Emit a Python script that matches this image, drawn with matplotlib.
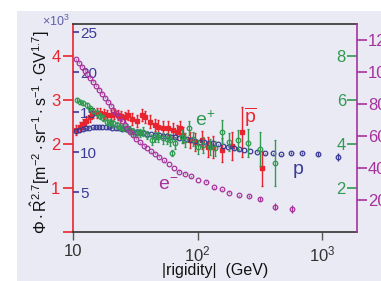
import matplotlib
matplotlib.use("Agg")
import matplotlib.pyplot as plt
from matplotlib.patches import Rectangle
from matplotlib.ticker import NullLocator

plt.rcParams['font.family'] = ['Liberation Sans', 'DejaVu Sans']
plt.rcParams['mathtext.fontset'] = 'custom'
plt.rcParams['mathtext.rm'] = 'Liberation Sans'
plt.rcParams['mathtext.it'] = 'Liberation Sans:italic'
plt.rcParams['mathtext.default'] = 'regular'

# protons (x10^3, blue inner scale)
p_rig = [10.57, 11.24, 11.94, 12.69, 13.49, 14.34, 15.25, 16.20, 17.22, 18.31,
         19.46, 20.69, 21.99, 23.37, 24.85, 26.41, 28.07, 29.84, 31.71, 33.71,
         36.16, 38.94, 41.94, 45.14, 48.62, 52.35, 56.36, 60.69, 65.36, 70.37,
         75.77, 81.59, 87.86, 95.5, 103.8, 112.8, 122.6, 133.2, 146.1, 160.2,
         175.8, 196.4, 215.4, 236.3, 264.1, 298.9, 348.5, 401.8, 465.9, 563.7,
         690.9, 928.9, 1344]
p_flux = [12.63, 12.75, 12.84, 12.96, 13.05, 13.09, 13.11, 13.13, 13.13, 13.11,
          13.09, 13.06, 13.03, 12.98, 12.91, 12.84, 12.75, 12.65, 12.55, 12.46,
          12.38, 12.29, 12.21, 12.14, 12.08, 12.01, 11.96, 11.91, 11.85, 11.78,
          11.70, 11.60, 11.50, 11.40, 11.31, 11.24, 11.18, 11.09, 10.96, 10.75,
          10.66, 10.46, 10.34, 10.25, 10.13, 10.04, 9.84, 9.84, 9.71, 9.84,
          9.91, 9.75, 9.41]
p_err = [0.03] * 49 + [0.12, 0.15, 0.25, 0.5]

# electrons (magenta right scale)
em_rig = [10.6, 11.2, 11.8, 12.4, 13.0, 13.7, 14.5, 15.3, 16.1, 17.0, 18.0,
          19.0, 20.0, 21.1, 22.2, 23.4, 24.6, 26.0, 27.3, 28.8, 30.4, 32.3,
          34.4, 36.8, 39.4, 42.4, 45.6, 49.4, 53.7, 58.7, 64.5, 71.4, 79.5,
          89.2, 101, 116, 136, 156, 177, 213, 256, 316, 418, 567]
em_flux = [108.0, 105.7, 103.2, 100.7, 98.5, 96.3, 93.8, 91.4, 88.9, 86.4, 83.9,
           81.4, 78.9, 76.4, 74.2, 71.7, 69.6, 67.1, 64.9, 62.7, 60.9, 58.4,
           56.2, 54.0, 52.5, 50.6, 48.8, 46.9, 44.7, 42.5, 40.0, 37.8, 36.3,
           34.7, 32.5, 31.3, 27.9, 26.6, 24.6, 22.9, 22.5, 20.4, 15.9, 14.2]
em_err = [0.3] * 40 + [0.8, 1.2, 2.0, 2.5]

# positrons (green right-inner scale)
ep_rig = [10.77, 11.38, 12.10, 12.88, 13.69, 14.55, 15.50, 16.48, 17.52, 18.65,
          19.83, 21.07, 22.44, 23.85, 25.35, 27.0, 28.7, 30.5, 32.5, 34.5,
          36.7, 39.3, 42.9, 45.6, 48.4, 53.1, 56.6, 60.1, 62.1, 66.0,
          74.7, 79.4, 85.5, 92.5, 101, 110.7, 126, 138.2, 156.5, 179,
          212.7, 255.9, 317.7, 419.4]
ep_flux = [6.0, 5.92, 5.85, 5.77, 5.64, 5.5, 5.41, 5.27, 5.18, 5.01,
           4.98, 4.95, 4.86, 4.79, 4.75, 4.71, 4.64, 4.56, 4.52, 4.49,
           4.56, 4.41, 4.18, 4.32, 4.33, 4.27, 4.23, 4.18, 3.58, 4.05,
           4.33, 4.18, 4.71, 4.23, 3.88, 3.95, 3.88, 3.8, 4.56, 4.1,
           4.18, 4.06, 3.76, 3.15]
ep_err = [0.09, 0.09, 0.09, 0.11, 0.11, 0.11, 0.14, 0.14, 0.14, 0.14,
          0.14, 0.16, 0.16, 0.16, 0.16, 0.18, 0.18, 0.18, 0.18, 0.18,
          0.2, 0.2, 0.23, 0.23, 0.23, 0.25, 0.25, 0.27, 0.14, 0.27,
          0.3, 0.32, 0.32, 0.32, 0.32, 0.36, 0.36, 0.36, 0.55, 0.41,
          0.45, 0.64, 0.77, 1.05]

# antiprotons (red left scale)
pb_rig = [10.57, 11.28, 11.92, 12.72, 13.57, 14.47, 15.44, 16.48, 17.58, 18.76,
          20.01, 21.36, 22.79, 24.32, 25.95, 27.7, 29.85, 32.8, 35.7, 37.9,
          41.6, 45.6, 48.2, 52.8, 57.9, 63.5, 68.3, 72.3, 76.4, 87.0,
          95.6, 108.9, 121.8, 133.2, 156.5, 188.0, 228.6, 327.3]
pb_flux = [2.32, 2.39, 2.45, 2.52, 2.61, 2.70, 2.70, 2.70, 2.68, 2.66,
           2.66, 2.68, 2.66, 2.64, 2.61, 2.66, 2.57, 2.52, 2.66, 2.61,
           2.51, 2.43, 2.39, 2.36, 2.36, 2.32, 2.28, 2.36, 2.20, 2.09,
           2.05, 2.09, 1.94, 1.94, 1.86, 1.95, 2.28, 1.45]
pb_err = [0.11] * 16 + [0.14] * 6 + [0.16] * 6 + [0.18, 0.18, 0.2, 0.2,
                                                   0.23, 0.25, 0.27, 0.32, 0.57, 0.4]

RED = '#e8252f'
BLUE = '#3a3a98'
GREEN = '#2f9a50'
MAG = '#a8329c'
BG = '#eaeaf4'
DARK = '#333333'

fig = plt.figure(figsize=(3.81, 2.81), dpi=100)
fig.patch.set_facecolor('white')
fig.add_artist(Rectangle((17 / 381, 0), 1, 1 - 11 / 281, transform=fig.transFigure,
                         facecolor=BG, edgecolor='none', zorder=-10))

ax = fig.add_axes([73 / 381, 49 / 281, 284 / 381, 208 / 281])
ax.set_facecolor(BG)
ax.set_xscale('log')
ax.set_xlim(10, 1900)
ax.set_ylim(0, 4.73)
ax.set_xticks([10, 100, 1000])
ax.set_xticklabels(['10', r'$10^2$', r'$10^3$'])
ax.xaxis.set_minor_locator(NullLocator())
ax.tick_params(axis='x', colors='#555555', labelcolor=DARK, labelsize=12,
               length=6, width=1, direction='out', pad=3)
ax.set_yticks([0, 1, 2, 3, 4])
ax.set_yticklabels(['', '1', '2', '3', '4'])
ax.tick_params(axis='y', colors=RED, labelsize=12, length=7, width=1.2, pad=2)
for s in ['top', 'bottom']:
    ax.spines[s].set_color(DARK)
    ax.spines[s].set_linewidth(1.2)
ax.spines['left'].set_color(RED)
ax.spines['left'].set_linewidth(1.2)
ax.spines['right'].set_visible(False)

# protons: inner blue scale on the left spine
axp = ax.twinx()
axp.set_ylim(0, 26)
axp.spines['right'].set_position(('axes', 0))
for s in axp.spines.values():
    s.set_visible(False)
axp.set_yticks([5, 10, 15, 20, 25])
axp.tick_params(axis='y', colors=BLUE, labelsize=11, length=4, width=1.2,
                direction='out', pad=1)

# positrons: green scale inside the right spine
axe = ax.twinx()
axe.set_ylim(0, 9.46)
axe.yaxis.set_ticks_position('left')
axe.spines['left'].set_position(('axes', 1))
for s in axe.spines.values():
    s.set_visible(False)
axe.set_yticks([2, 4, 6, 8])
axe.tick_params(axis='y', colors=GREEN, labelsize=12, length=7, width=1.2,
                direction='out', pad=1)

# electrons: magenta scale outside the right spine
axm = ax.twinx()
axm.set_ylim(0, 130)
for s in ['top', 'bottom', 'left']:
    axm.spines[s].set_visible(False)
axm.spines['right'].set_color(MAG)
axm.spines['right'].set_linewidth(1.2)
axm.set_yticks([20, 40, 60, 80, 100, 120])
axm.tick_params(axis='y', colors=MAG, labelsize=12, length=7, width=1.2, pad=1)

ax.errorbar(pb_rig, pb_flux, yerr=pb_err, fmt='s', ms=2.4, color=RED,
            elinewidth=1, capsize=1, capthick=1, zorder=3)
axp.errorbar(p_rig, p_flux, yerr=p_err, fmt='o', ms=3.3, mfc='none', mew=0.9,
             color=BLUE, elinewidth=1, capsize=0)
axe.errorbar(ep_rig, ep_flux, yerr=ep_err, fmt='o', ms=3.3, mfc='none', mew=0.9,
             color=GREEN, elinewidth=1, capsize=1)
axm.errorbar(em_rig, em_flux, yerr=em_err, fmt='o', ms=3.3, mfc='none', mew=0.9,
             color=MAG, elinewidth=1, capsize=0)

ax.text(115, 2.55, r'$e^{+}$', color=GREEN, fontsize=14, ha='center', va='center')
ax.text(264, 2.6, r'$\overline{p}$', color=RED, fontsize=14, ha='center', va='center')
ax.text(641, 1.42, 'p', color=BLUE, fontsize=14, ha='center', va='center')
ax.text(58, 1.05, r'$e^{-}$', color=MAG, fontsize=14, ha='center', va='center')

fig.text(56 / 381, 1 - 21 / 281, r'$\times10^3$', color='#6060a8', fontsize=9,
         ha='center', va='center')
fig.text(40 / 381, 1 - 132 / 281,
         r'$\Phi\cdot\hat{R}^{2.7}[m^{-2}\cdot sr^{-1}\cdot s^{-1}\cdot GV^{1.7}]$',
         rotation=90, fontsize=11.5, ha='center', va='center', color='#111111')
fig.text(215 / 381, 1 - 270 / 281, '|rigidity|  (GeV)', fontsize=11.5,
         ha='center', va='center', color='#111111')

fig.savefig('out.png', dpi=100)
